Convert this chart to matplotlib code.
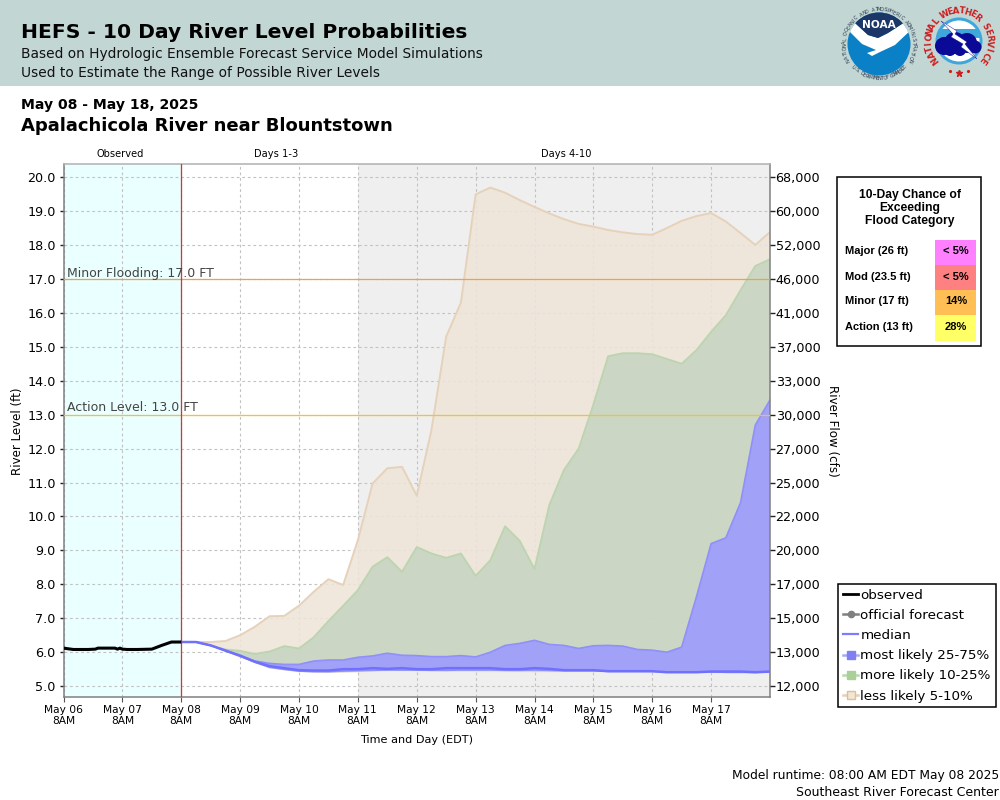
import numpy as np
import matplotlib
matplotlib.use("Agg")
import matplotlib.pyplot as plt
from matplotlib.lines import Line2D
from matplotlib.patches import Rectangle, Circle, Polygon

# ---------- data ----------
obs_hours = [0, 2, 4, 10, 13, 14, 21, 22, 23, 24, 26, 30, 36, 40, 44, 48]
obs_level = [6.12, 6.10, 6.08, 6.08, 6.09, 6.12, 6.12, 6.09, 6.12, 6.09, 6.08, 6.08, 6.09, 6.2, 6.3, 6.3]
# 6-hourly forecast from May 08 8AM
fc_step_hours = 6
fc_start_hours = 48
median = [6.3,6.3,6.2,6.05,5.9,5.72,5.59,5.53,5.47,5.46,5.46,5.5,5.5,5.53,5.51,5.53,5.5,5.5,5.53,5.53,5.53,
          5.53,5.5,5.5,5.53,5.51,5.47,5.47,5.47,5.44,5.44,5.44,5.44,5.41,5.41,5.41,5.43,5.43,5.43,5.41,5.43]
p75 = [6.3,6.3,6.2,6.05,5.9,5.74,5.67,5.64,5.64,5.74,5.77,5.77,5.85,5.89,5.97,5.91,5.9,5.87,5.87,5.9,5.86,
       6.0,6.2,6.26,6.35,6.23,6.2,6.11,6.19,6.2,6.18,6.08,6.06,6.0,6.15,7.63,9.2,9.37,10.41,12.69,13.43]
p25 = [6.3,6.3,6.2,6.03,5.87,5.7,5.55,5.49,5.44,5.42,5.42,5.44,5.45,5.46,5.47,5.47,5.47,5.46,5.46,5.47,5.47,
       5.47,5.46,5.46,5.47,5.46,5.45,5.45,5.45,5.43,5.43,5.43,5.43,5.42,5.42,5.42,5.42,5.40,5.40,5.40,5.41]
p90 = [6.3,6.3,6.2,6.08,6.04,5.95,6.02,6.18,6.11,6.44,6.92,7.37,7.83,8.52,8.8,8.37,9.1,8.91,8.78,8.91,8.25,
       8.71,9.71,9.28,8.45,10.33,11.37,12.0,13.3,14.72,14.81,14.81,14.78,14.64,14.5,14.9,15.44,15.93,16.67,17.38,17.58]
p10 = [6.3,6.3,6.2,6.03,5.87,5.69,5.53,5.47,5.42,5.41,5.40,5.41,5.42,5.44,5.45,5.45,5.45,5.45,5.44,5.44,5.44,
       5.44,5.44,5.43,5.42,5.42,5.42,5.42,5.42,5.42,5.42,5.42,5.41,5.41,5.41,5.41,5.39,5.39,5.39,5.39,5.39]
p95 = [6.3,6.3,6.3,6.33,6.5,6.75,7.06,7.07,7.37,7.78,8.15,7.98,9.3,10.97,11.42,11.46,10.61,12.55,15.3,16.3,19.49,
       19.69,19.54,19.32,19.12,18.93,18.76,18.62,18.54,18.44,18.37,18.32,18.3,18.5,18.71,18.85,18.94,18.69,18.35,18.0,18.38]
p5 = [6.3,6.3,6.2,6.03,5.86,5.68,5.52,5.46,5.41,5.40,5.39,5.39,5.40,5.42,5.43,5.43,5.43,5.43,5.42,5.42,5.41,
      5.41,5.41,5.41,5.40,5.40,5.41,5.41,5.41,5.41,5.41,5.41,5.40,5.40,5.40,5.40,5.38,5.38,5.38,5.38,5.38]

day_labels = ["May 06", "May 07", "May 08", "May 09", "May 10", "May 11", "May 12", "May 13", "May 14", "May 15", "May 16", "May 17"]
level_ticks = [5.0, 6.0, 7.0, 8.0, 9.0, 10.0, 11.0, 12.0, 13.0, 14.0, 15.0, 16.0, 17.0, 18.0, 19.0, 20.0]
flow_labels = ["12,000", "13,000", "15,000", "17,000", "20,000", "22,000", "25,000", "27,000", "30,000",
               "33,000", "37,000", "41,000", "46,000", "52,000", "60,000", "68,000"]
minor_level = 17.0
action_level = 13.0
table_rows = ["Major (26 ft)", "Mod (23.5 ft)", "Minor (17 ft)", "Action (13 ft)"]
table_vals = ["< 5%", "< 5%", "14%", "28%"]
table_cols = ["#ff80ff", "#ff8080", "#ffbf55", "#ffff66"]

# ---------- figure ----------
plt.rcParams['font.family'] = 'DejaVu Sans'
fig = plt.figure(figsize=(10, 8), dpi=100, facecolor='white')

L, R, T, B = 63.5, 770.0, 164.0, 697.0
ax = fig.add_axes([L/1000, 1-B/800, (R-L)/1000, (B-T)/800])
ax.set_xlim(0, 288)
ax.set_ylim(4.68, 20.385)
ax.set_axisbelow(True)
ax.axvspan(0, 48, color='#eaffff', lw=0, zorder=0)
ax.axvspan(120, 288, color='#efefef', lw=0, zorder=0)
ax.set_xticks(np.arange(0, 288, 24))
ax.set_xticklabels([f"{d}\n8AM" for d in day_labels], fontsize=7.7, linespacing=1.12)
ax.set_yticks(level_ticks)
ax.set_yticklabels([f"{v:.1f}" for v in level_ticks], fontsize=9.2)
ax.grid(True, color='#c2c2c2', lw=0.8, ls=(0, (2.5, 2.5)), zorder=1)
ax.tick_params(axis='x', length=3.5, width=0.8, color='#555555', pad=2)
ax.tick_params(axis='y', length=3, width=1, color='#222222', pad=2.5)
for s in ax.spines.values():
    s.set_color('#808080')
    s.set_linewidth(1.1)
ax.spines['top'].set_color('#b0b0b0')

fc_x = fc_start_hours + fc_step_hours*np.arange(len(median))
ax.fill_between(fc_x, p5, p95, facecolor='#eee5d9', alpha=0.88, edgecolor='none', zorder=2)
ax.plot(fc_x, p95, color='#e6d2ba', lw=1.4, zorder=2.1)
ax.fill_between(fc_x, p10, p90, facecolor='#c8d6c2', alpha=0.92, edgecolor='none', zorder=2.2)
ax.plot(fc_x, p90, color='#bcd4b0', lw=1.3, zorder=2.3)
ax.fill_between(fc_x, p25, p75, facecolor='#a0a0fa', alpha=0.97, edgecolor='none', zorder=2.4)
ax.plot(fc_x, p75, color='#9090f8', lw=1.2, zorder=2.5)
ax.plot(fc_x, p25, color='#9090f8', lw=0.9, zorder=2.5)
ax.plot(fc_x, median, color='#7070ff', lw=1.8, zorder=2.6)

ax.axhline(minor_level, color='#f5a040', lw=0.9, zorder=3)
ax.axhline(action_level, color='#f5c518', lw=0.9, zorder=3)
ax.axvline(48, color='#f02828', lw=0.9, zorder=3)
ax.plot(obs_hours, obs_level, color='#000000', lw=2.2, zorder=4, solid_capstyle='butt')

ax.text(1.5, minor_level-0.02, f"Minor Flooding: {minor_level:.1f} FT", fontsize=9, color='#444444', va='bottom', zorder=5)
ax.text(1.5, action_level+0.01, f"Action Level: {action_level:.1f} FT", fontsize=9, color='#444444', va='bottom', zorder=5)

ax2 = ax.twinx()
ax2.set_ylim(ax.get_ylim())
ax2.set_yticks(level_ticks)
ax2.set_yticklabels(flow_labels, fontsize=9.2)
ax2.tick_params(axis='y', length=3.5, width=1, color='#222222', pad=0.5)
for s in ax2.spines.values():
    s.set_visible(False)

# overlay in pixel coordinates
ov = fig.add_axes([0, 0, 1, 1], zorder=10)
ov.set_xlim(0, 1000)
ov.set_ylim(800, 0)
ov.axis('off')
ov.patch.set_alpha(0)

ov.add_patch(Rectangle((0, 0), 1000, 85.5, color='#c2d6d4', lw=0, zorder=0))
ov.text(21, 33, "HEFS - 10 Day River Level Probabilities", fontsize=14.6, fontweight='bold', va='center', color='#000000')
ov.text(21, 54, "Based on Hydrologic Ensemble Forecast Service Model Simulations", fontsize=9.9, va='center', color='#111111')
ov.text(21, 73, "Used to Estimate the Range of Possible River Levels", fontsize=9.9, va='center', color='#111111')
ov.text(21, 105, "May 08 - May 18, 2025", fontsize=10.1, fontweight='bold', va='center')
ov.text(21, 126, "Apalachicola River near Blountstown", fontsize=13.0, fontweight='bold', va='center')
ov.text(120, 154, "Observed", fontsize=7.1, ha='center', va='center')
ov.text(276, 154, "Days 1-3", fontsize=7.1, ha='center', va='center')
ov.text(566, 154, "Days 4-10", fontsize=7.1, ha='center', va='center')
ov.text(417, 740, "Time and Day (EDT)", fontsize=8.1, ha='center', va='center')
ov.text(18, 431, "River Level (ft)", fontsize=8.6, rotation=90, ha='center', va='center')
ov.text(832, 431, "River Flow (cfs)", fontsize=8.6, rotation=-90, ha='center', va='center')
ov.text(999, 776, "Model runtime: 08:00 AM EDT May 08 2025", fontsize=8.8, ha='right', va='center')
ov.text(999, 792, "Southeast River Forecast Center", fontsize=9.0, ha='right', va='center')

# flood category table
ov.add_patch(Rectangle((836.5, 176.5), 144, 169, fc='white', ec='black', lw=1.1))
for i, line in enumerate(["10-Day Chance of", "Exceeding", "Flood Category"]):
    ov.text(910, 195+13*i, line, family='Liberation Sans', fontweight='bold', fontsize=8.7, ha='center', va='center')
for i, (r, v, c) in enumerate(zip(table_rows, table_vals, table_cols)):
    y0 = 240 + 25*i
    ov.add_patch(Rectangle((935, y0), 41, 25 + (1 if i == 3 else 0), fc=c, lw=0))
    ov.text(845, y0+11.5, r, family='Liberation Sans', fontweight='bold', fontsize=8, va='center')
    ov.text(956, y0+11.5, v, family='Liberation Sans', fontweight='bold', fontsize=8, ha='center', va='center')

# legend
handles = [
    Line2D([], [], color='black', lw=2.0),
    Line2D([], [], color='#808080', lw=1.8, marker='o', ms=4.5),
    Line2D([], [], color='#7c7cff', lw=1.6),
    Line2D([], [], color='#a8a8fc', lw=1.8, marker='s', ms=5.5, mfc='#8080f0', mec='#8080f0'),
    Line2D([], [], color='#b8d8a8', lw=1.8, marker='s', ms=5.5, mfc='#a8d098', mec='#a8d098'),
    Line2D([], [], color='#e6d0b6', lw=1.8, marker='s', ms=5.5, mfc='#f3e6d2', mec='#d8c0a0'),
]
labels = ["observed", "official forecast", "median", "most likely 25-75%", "more likely 10-25%", "less likely 5-10%"]
leg = ov.legend(handles, labels, loc='upper left', bbox_to_anchor=(838, 584), bbox_transform=ov.transData,
                fontsize=9.7, frameon=True, fancybox=False, edgecolor='black', framealpha=1,
                borderpad=0.36, handlelength=1.15, handletextpad=0.15, labelspacing=0.53, borderaxespad=0)
leg.get_frame().set_linewidth(1.1)

# logos
def arc_text(txt, cx, cy, r, t0, t1, **kw):
    ang = np.radians(np.linspace(t0, t1, len(txt)))
    flip = t1 < t0
    for ch, t in zip(txt, ang):
        rot = -np.degrees(t) + (180 if flip else 0)
        ov.text(cx + r*np.sin(t), cy - r*np.cos(t), ch, rotation=rot, rotation_mode='anchor',
                ha='center', va='center', **kw)

nc = (879, 44)
disc = Circle(nc, 31.5, fc='#0a80c6', ec='none', zorder=2)
ov.add_patch(disc)
white = Polygon([(846, 28), (855, 23), (868, 35), (878, 38), (888, 33), (905, 22), (913, 28), (895, 45), (880, 52),
                 (872, 56), (867, 53), (876, 50), (862, 44)], fc='white', ec='none', zorder=3)
ov.add_patch(white)
white.set_clip_path(disc)
navy = Polygon([(845, 8), (915, 8), (905, 22), (888, 33), (878, 38), (868, 35), (855, 23)], fc='#1c3668', ec='none', zorder=4)
ov.add_patch(navy)
navy.set_clip_path(disc)
ov.text(879, 25, "NOAA", color='white', fontsize=7.6, fontweight='bold', ha='center', va='center', zorder=5)
arc_text("NATIONAL OCEANIC AND ATMOSPHERIC ADMINISTRATION", nc[0], nc[1], 34.5, -118, 118,
         fontsize=3.6, color='#2c3a4e', zorder=5)
arc_text("U.S. DEPARTMENT OF COMMERCE", nc[0], nc[1], 34.5, 228, 132, fontsize=3.6, color='#2c3a4e', zorder=5)

wc = (959, 41)
ov.add_patch(Circle(wc, 23.5, fc='#3fa6dc', ec='none', zorder=1))
ov.add_patch(Circle(wc, 20.5, fc='white', ec='none', zorder=1.5))
ov.add_patch(Polygon([(941, 29), (977, 29), (980, 38), (938, 38)], fc='#3fa6dc', ec='none', zorder=1.6))
for cx, cy, r in [(944, 46, 9), (955, 43, 11), (967, 43, 10), (975, 47, 6.5), (960, 50, 6), (950, 50, 6)]:
    ov.add_patch(Circle((cx, cy), r, fc='#0a0a96', ec='none', zorder=2))
ov.add_patch(Polygon([(941, 21), (957, 31), (955, 34), (967, 42), (965, 44), (977, 59), (961, 47), (963, 44), (951, 37), (953, 34)],
                     fc='white', ec='#0a0a96', lw=0.3, zorder=3))
arc_text("NATIONAL WEATHER SERVICE", wc[0], wc[1], 30, -128, 128, fontsize=6.2, fontweight='bold', color='#cc1f1f', zorder=5)
ov.plot([950, 968], [71, 71], ls='none', marker='.', ms=2.5, color='#cc1f1f', zorder=5)
ov.plot([959], [72.5], ls='none', marker='*', ms=5, color='#cc1f1f', zorder=5)

fig.savefig("out.png", dpi=100, facecolor='white')
